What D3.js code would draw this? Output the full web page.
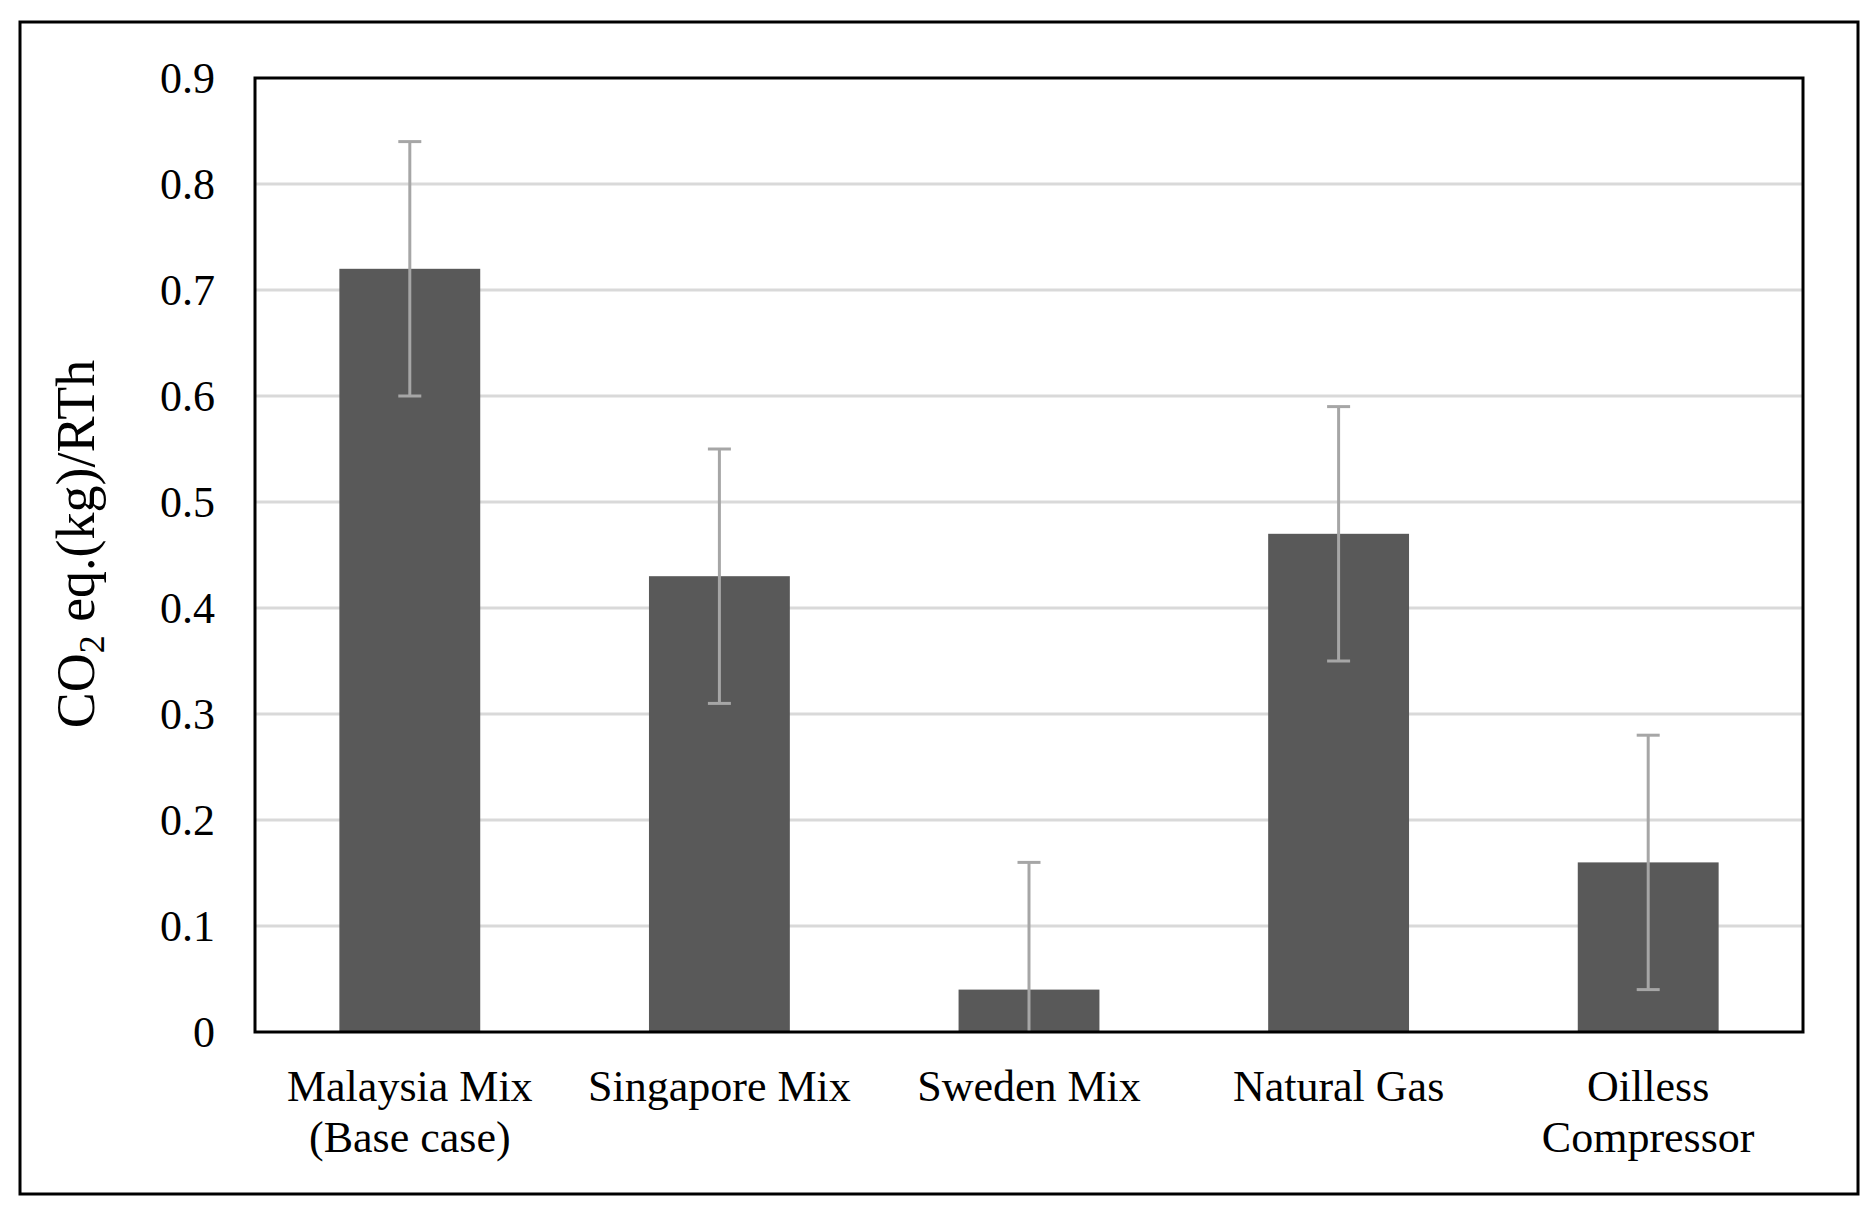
<!DOCTYPE html>
<html>
<head>
<meta charset="utf-8">
<script src="https://cdn.jsdelivr.net/npm/d3@7"></script>
<style>
  html, body { margin: 0; padding: 0; background: #fff; }
  svg { display: block; }
  text { font-family: "Liberation Serif", "Times New Roman", serif; fill: #000; }
</style>
</head>
<body>
<svg id="chart" width="1876" height="1211"></svg>
<script>
const categories = [["Malaysia Mix", "(Base case)"], ["Singapore Mix"], ["Sweden Mix"], ["Natural Gas"], ["Oilless", "Compressor"]];
const values = [0.72, 0.43, 0.04, 0.47, 0.16];
const errors = [0.12, 0.12, 0.12, 0.12, 0.12];
const yTicks = [0, 0.1, 0.2, 0.3, 0.4, 0.5, 0.6, 0.7, 0.8, 0.9];
const yLabels = ["0", "0.1", "0.2", "0.3", "0.4", "0.5", "0.6", "0.7", "0.8", "0.9"];

const svg = d3.select("#chart");
const m = { left: 255, top: 78, right: 1803, bottom: 1032 };

// outer frame
svg.append("rect").attr("x", 20).attr("y", 22).attr("width", 1838).attr("height", 1172)
  .attr("fill", "none").attr("stroke", "#000").attr("stroke-width", 3);

const ids = categories.map((c, i) => i);
const x = d3.scaleBand().domain(ids).range([m.left, m.right]).paddingInner(0.545).paddingOuter(0.2725);
const y = d3.scaleLinear().domain([0, 0.9]).range([m.bottom, m.top]);

// gridlines
svg.append("g").selectAll("line").data(yTicks.filter(t => t > 0 && t < 0.9)).join("line")
  .attr("x1", m.left).attr("x2", m.right)
  .attr("y1", d => y(d)).attr("y2", d => y(d))
  .attr("stroke", "#d9d9d9").attr("stroke-width", 3);

// y axis labels
const yAxis = d3.axisLeft(y).tickValues(yTicks).tickFormat((d, i) => yLabels[i]).tickSize(0).tickPadding(40);
const ga = svg.append("g").attr("transform", `translate(${m.left},0)`).call(yAxis);
ga.select(".domain").remove();
ga.selectAll("text").attr("font-size", 44).attr("font-family", "Liberation Serif").attr("fill", "#000");

// bars
svg.append("g").selectAll("rect").data(values).join("rect")
  .attr("x", (d, i) => x(i)).attr("width", x.bandwidth())
  .attr("y", d => y(d)).attr("height", d => y(0) - y(d))
  .attr("fill", "#595959");

// error bars
const eg = svg.append("g").attr("stroke", "#a6a6a6").attr("stroke-width", 3);
values.forEach((v, i) => {
  const cx = x(i) + x.bandwidth() / 2;
  const hi = v + errors[i];
  const loRaw = v - errors[i];
  const lo = Math.max(0, loRaw);
  eg.append("line").attr("x1", cx).attr("x2", cx).attr("y1", y(hi)).attr("y2", y(lo));
  eg.append("line").attr("x1", cx - 11.5).attr("x2", cx + 11.5).attr("y1", y(hi)).attr("y2", y(hi));
  if (loRaw >= 0) {
    eg.append("line").attr("x1", cx - 11.5).attr("x2", cx + 11.5).attr("y1", y(lo)).attr("y2", y(lo));
  }
});

// plot frame
svg.append("rect").attr("x", m.left).attr("y", m.top)
  .attr("width", m.right - m.left).attr("height", m.bottom - m.top)
  .attr("fill", "none").attr("stroke", "#000").attr("stroke-width", 3);

// category labels
const xl = svg.append("g");
categories.forEach((lines, i) => {
  const cx = x(i) + x.bandwidth() / 2;
  const t = xl.append("text").attr("text-anchor", "middle").attr("font-size", 44);
  lines.forEach((ln, j) => {
    t.append("tspan").attr("x", cx).attr("y", 1101 + j * 51).text(ln);
  });
});

// y title
const yt = svg.append("text")
  .attr("transform", "translate(94,544) rotate(-90)")
  .attr("text-anchor", "middle").attr("font-size", 54);
yt.append("tspan").text("CO");
yt.append("tspan").attr("font-size", 36).attr("dy", 10).text("2");
yt.append("tspan").attr("dy", -10).text(" eq.(kg)/RTh");
</script>
</body>
</html>
